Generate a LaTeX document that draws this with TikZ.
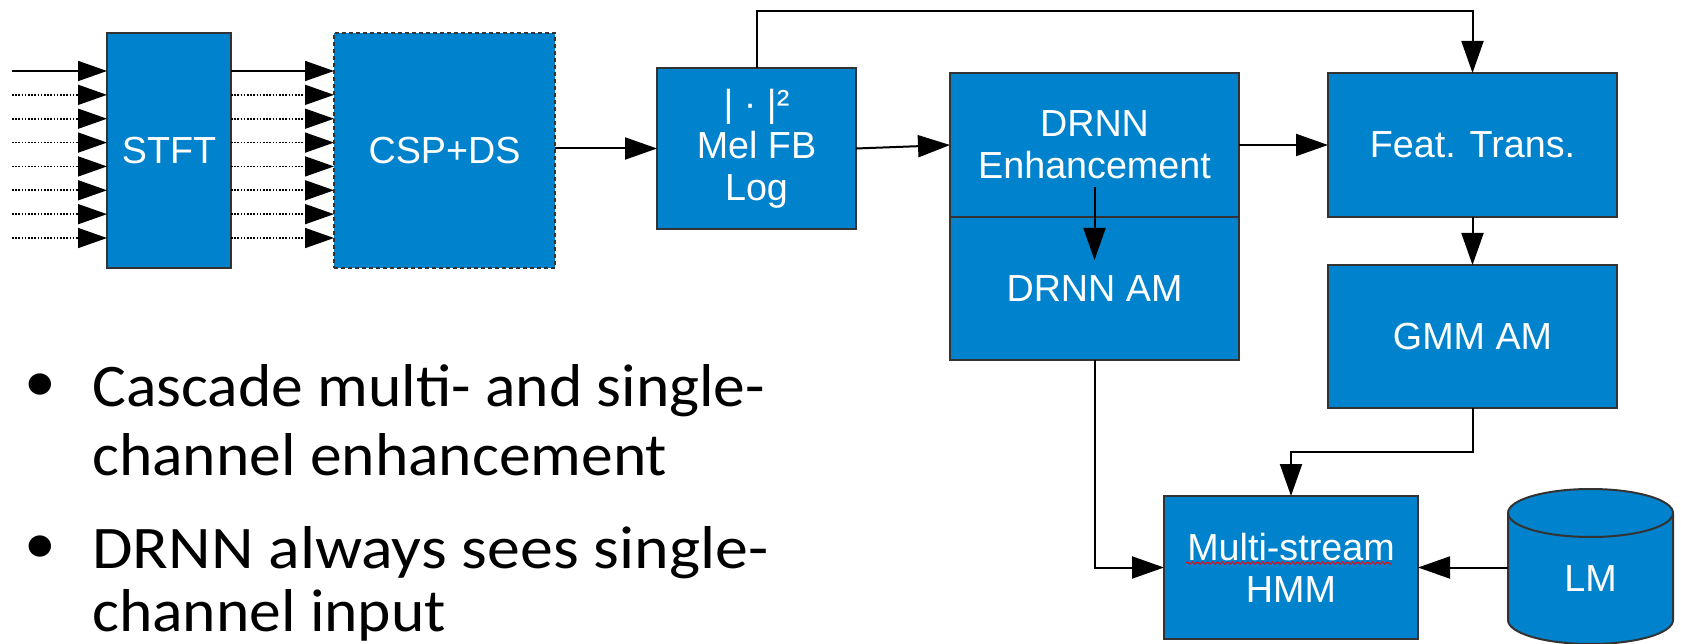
\documentclass[tikz,border=0pt]{standalone}
\usepackage{fontspec}
\setmainfont{Liberation Sans}
\newfontfamily\bulletfont[FakeStretch=1.05]{Carlito}
\newfontfamily\bulletfontw[FakeStretch=1.089]{Carlito}
\usetikzlibrary{arrows.meta,decorations.pathmorphing}
\definecolor{boxblue}{RGB}{0,130,204}
\definecolor{edgegray}{RGB}{51,51,51}
\begin{document}
\begin{tikzpicture}[x=1pt,y=-1pt,
  blk/.style={draw=edgegray,line width=2pt,fill=boxblue,text=white,
    font=\fontsize{37.7}{42}\selectfont,align=center,inner sep=0pt,outer sep=0pt},
  conn/.style={line width=2pt,-{Triangle[length=32pt,width=22pt]}},
  inarr/.style={line width=1.6pt,-{Triangle[length=29pt,width=20pt]}},
  dotline/.style={dash pattern=on 1.6pt off 1.6pt},
  bul/.style={font=\bulletfont\fontsize{60.5}{64}\selectfont,inner sep=0pt},
  bulw/.style={font=\bulletfontw\fontsize{60.5}{64}\selectfont,inner sep=0pt},
  squiggle/.style={red,line width=0.9pt,decorate,
    decoration={snake,amplitude=1.2pt,segment length=5pt}}
]
\useasboundingbox (0,0) rectangle (1681,644);

% blocks
\node[blk,minimum width=124pt,minimum height=235pt] (stft) at (169,150.5) {STFT};
\node[blk,dash pattern=on 4pt off 3pt,minimum width=221pt,minimum height=235pt] (csp) at (444.5,150.5) {CSP+DS};
\node[blk,minimum width=199pt,minimum height=161pt] (mel) at (756.5,148.5) {| · |²\\Mel FB\\Log};
\node[blk,minimum width=289pt,minimum height=144pt] (enh) at (1094.5,145) {DRNN\\Enhancement};
\node[blk,minimum width=289pt,minimum height=143pt] (am) at (1094.5,288.5) {DRNN AM};
\node[blk,minimum width=289pt,minimum height=144pt] (feat) at (1472.5,145) {Feat. Trans.};
\node[blk,minimum width=289pt,minimum height=143pt] (gmm) at (1472.5,336.5) {GMM AM};
\node[blk,minimum width=254pt,minimum height=143pt] (hmm) at (1291,567.5) {Multi-stream\\HMM};
\draw[squiggle] (1186,563) -- (1392,563);

% LM cylinder
\filldraw[draw=edgegray,line width=2pt,fill=boxblue]
  (1508,513) -- (1508,620) arc[start angle=180,end angle=360,x radius=82.5pt,y radius=24pt]
  -- (1673,513) arc[start angle=0,end angle=180,x radius=82.5pt,y radius=24pt] -- cycle;
\draw[draw=edgegray,line width=2pt] (1508,513) arc[start angle=180,end angle=360,x radius=82.5pt,y radius=24pt];
\node[text=white,font=\fontsize{37.7}{42}\selectfont,inner sep=0pt] (lm) at (1590.5,579) {LM};
\coordinate (lmw) at (1508,567.5);

% input lines
\foreach \i in {0,...,7}{
  \pgfmathsetmacro{\yy}{71+23.86*\i}
  \coordinate (in\i) at (12,\yy);
}
\draw[inarr] (in0) -- (in0 -| stft.west);
\draw[inarr] (in0 -| stft.east) -- (in0 -| csp.west);
\foreach \i in {1,...,7}{
  \draw[inarr,dotline] (in\i) -- (in\i -| stft.west);
  \draw[inarr,dotline] (in\i -| stft.east) -- (in\i -| csp.west);
}

% connectors
\draw[conn] (csp.east |- mel.west) -- (mel.west);
\draw[conn] (mel.east) -- (enh.west);
\draw[conn] (mel.north) -- ++(0,-57) -| (feat.north);
\draw[conn] (enh.east) -- (feat.west);
\coordinate (ia) at (1094.5,187);
\coordinate (ib) at (1094.5,260);
\draw[conn] (ia) -- (ib);
\draw[conn] (feat.south) -- (gmm.north);
\draw[conn] (gmm.south) -- ++(0,44) -| (hmm.north);
\draw[conn] (am.south) |- (hmm.west);
\draw[conn] (lmw) -- (hmm.east);

% bullets
\node[bul,anchor=base] (d1) at (40.5,401) {•};
\node[bul,anchor=base west] (t1a) at (92,406) {Cascade multi- and single-};
\node[bul,anchor=base west] (t1b) at (92,475) {channel enhancement};
\node[bul,anchor=base] (d2) at (40.5,563) {•};
\node[bulw,anchor=base west] (t2a) at (92,568) {DRNN always sees single-};
\node[bul,anchor=base west] (t2b) at (92,631) {channel input};
\end{tikzpicture}
\end{document}
